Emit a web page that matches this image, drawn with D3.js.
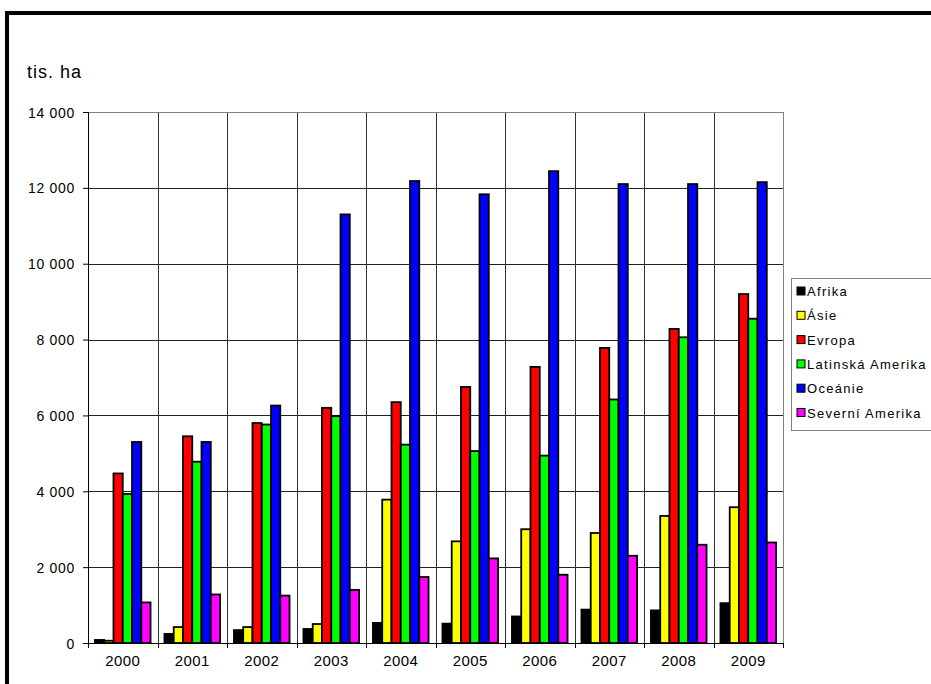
<!DOCTYPE html>
<html>
<head>
<meta charset="utf-8">
<script src="https://cdn.jsdelivr.net/npm/d3@7"></script>
<style>
  body { margin: 0; background: #fff; }
  svg text { font-family: "Liberation Sans", Arial, sans-serif; fill: #000; }
</style>
</head>
<body>
<svg id="chart"></svg>
<script>
const years = ['2000', '2001', '2002', '2003', '2004', '2005', '2006', '2007', '2008', '2009'];
const regions = ['Afrika', 'Ásie', 'Evropa', 'Latinská Amerika', 'Oceánie', 'Severní Amerika'];
const colors = ['#000000', '#ffff00', '#ff0000', '#00ff00', '#0000ff', '#ff00ff'];

// thousands of hectares
const afrika   = [80, 240, 340, 370, 530, 510, 700, 880, 860, 1050];
const asie     = [60, 420, 420, 500, 3780, 2680, 3000, 2900, 3350, 3580];
const evropa   = [4470, 5450, 5800, 6200, 6350, 6750, 7280, 7780, 8280, 9200];
const latinska = [3930, 4780, 5760, 5980, 5230, 5060, 4940, 6420, 8060, 8550];
const oceanie  = [5300, 5300, 6260, 11300, 12180, 11830, 12440, 12100, 12100, 12150];
const severni  = [1070, 1280, 1250, 1400, 1740, 2230, 1800, 2300, 2590, 2650];
const seriesValues = [afrika, asie, evropa, latinska, oceanie, severni];
const yTicks = [0, 2000, 4000, 6000, 8000, 10000, 12000, 14000];

const W = 931, H = 684;
const margin = {top: 112, left: 88, right: W - 783, bottom: H - 643};
const width = W - margin.left - margin.right;
const height = H - margin.top - margin.bottom;

const svg = d3.select('#chart').attr('width', W).attr('height', H);

// outer frame (thick black, running off the right and bottom edges)
svg.append('rect')
    .attr('x', 7).attr('y', 13)
    .attr('width', W + 20).attr('height', H + 20)
    .attr('fill', 'none')
    .attr('stroke', '#000')
    .attr('stroke-width', 4);

const chart = svg.append('g')
    .attr('transform', `translate(${margin.left},${margin.top})`);

const x0 = d3.scaleBand().domain(years).range([0, width]);
const x1 = d3.scaleBand().domain(regions).range([0, x0.bandwidth()])
    .paddingInner(0).paddingOuter(0.75);
const y = d3.scaleLinear().domain([0, 14000]).range([height, 0]);

const fmt = v => d3.format(',')(v).replace(/,/g, '\u00a0');

// horizontal gridlines
chart.append('g')
  .selectAll('line')
  .data(yTicks)
  .join('line')
    .attr('x1', 0).attr('x2', width)
    .attr('y1', d => Math.round(y(d)) + 0.5).attr('y2', d => Math.round(y(d)) + 0.5)
    .attr('stroke', '#222')
    .attr('stroke-width', 1);

// vertical gridlines at category boundaries
chart.append('g')
  .selectAll('line')
  .data(years.slice(1))
  .join('line')
    .attr('x1', d => Math.round(x0(d)) + 0.5).attr('x2', d => Math.round(x0(d)) + 0.5)
    .attr('y1', 0).attr('y2', height)
    .attr('stroke', '#333')
    .attr('stroke-width', 1);

// plot area border (right / top grey)
chart.append('rect')
    .attr('x', 0.5).attr('y', 0.5)
    .attr('width', width).attr('height', height)
    .attr('fill', 'none')
    .attr('stroke', '#808080');

// bars
const groups = chart.append('g')
  .selectAll('g')
  .data(years)
  .join('g')
    .attr('transform', d => `translate(${x0(d)},0)`);

groups.selectAll('rect')
  .data((d, i) => regions.map((r, k) => ({region: r, value: seriesValues[k][i], color: colors[k]})))
  .join('rect')
    .attr('x', d => x1(d.region))
    .attr('width', x1.bandwidth())
    .attr('y', d => y(d.value))
    .attr('height', d => height - y(d.value))
    .attr('fill', d => d.color)
    .attr('stroke', '#000')
    .attr('stroke-width', 1.8);

// y axis
const yAxis = d3.axisLeft(y).tickValues(yTicks).tickFormat(fmt).tickSizeOuter(0).tickSize(5).tickPadding(8);
const yAxisG = chart.append('g').call(yAxis);
yAxisG.select('.domain').attr('stroke', '#000');
yAxisG.selectAll('text')
    .style('font-size', '14px')
    .style('letter-spacing', '0.7px')
    .attr('dy', '0.36em');

// x axis
const xAxisG = chart.append('g').attr('transform', `translate(0,${height})`);
xAxisG.append('line')
    .attr('x1', 0).attr('x2', width)
    .attr('y1', 0.5).attr('y2', 0.5)
    .attr('stroke', '#000');
xAxisG.selectAll('.tickmark')
  .data(years.concat(['end']))
  .join('line')
    .attr('class', 'tickmark')
    .attr('x1', d => Math.round(d === 'end' ? width : x0(d)) + 0.5)
    .attr('x2', d => Math.round(d === 'end' ? width : x0(d)) + 0.5)
    .attr('y1', 0).attr('y2', 5)
    .attr('stroke', '#000');
xAxisG.selectAll('.label')
  .data(years)
  .join('text')
    .attr('class', 'label')
    .attr('x', d => x0(d) + x0.bandwidth() / 2)
    .attr('y', 23)
    .attr('text-anchor', 'middle')
    .style('font-size', '15px')
    .style('letter-spacing', '0.4px')
    .text(d => d);

// unit label
svg.append('text')
    .attr('x', 27).attr('y', 78)
    .style('font-size', '18px')
    .style('letter-spacing', '1px')
    .text('tis. ha');

// legend
const legend = svg.append('g').attr('transform', 'translate(791,278)');
legend.append('rect')
    .attr('x', 0.5).attr('y', 0.5)
    .attr('width', 160).attr('height', 152)
    .attr('fill', '#fff')
    .attr('stroke', '#808080');
const items = legend.selectAll('.item')
  .data(regions)
  .join('g')
    .attr('class', 'item')
    .attr('transform', (d, i) => `translate(6,${13 + i * 24.3})`);
items.append('rect')
    .attr('x', 0).attr('y', -4)
    .attr('width', 8).attr('height', 8)
    .attr('fill', (d, i) => colors[i])
    .attr('stroke', '#000')
    .attr('stroke-width', 1);
items.append('text')
    .attr('x', 10).attr('y', 5)
    .style('font-size', '13px')
    .style('letter-spacing', '1.3px')
    .text(d => d);
</script>
</body>
</html>
